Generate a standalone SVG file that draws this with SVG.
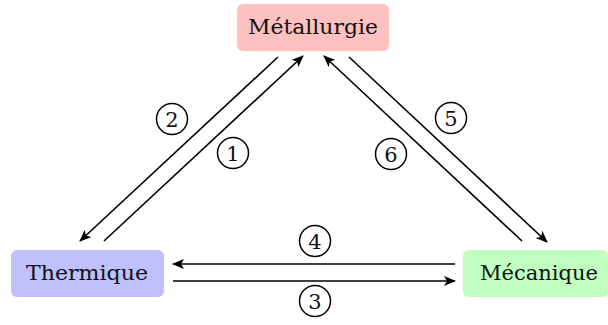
<svg xmlns="http://www.w3.org/2000/svg" width="608" height="325" viewBox="0 0 608 325">
<defs>
<marker id="ah" viewBox="0 0 12 10" refX="11" refY="5" markerWidth="12" markerHeight="10" markerUnits="userSpaceOnUse" orient="auto">
<path d="M0,0 L12,5 L0,10 L3,5 Z" fill="#000"/>
</marker>
</defs>
<style>
.lbl{font-family:"DejaVu Serif","Liberation Serif",serif;font-size:21px;fill:#111;text-anchor:middle}
.num{font-family:"DejaVu Serif","Liberation Serif",serif;font-size:21px;fill:#111;text-anchor:middle}
.c{fill:#fff;stroke:#000;stroke-width:1.5}
.e{stroke:#000;stroke-width:1.6;fill:none;marker-end:url(#ah)}
</style>
<g id="metallurgie">
<rect x="237" y="4" width="152" height="47" rx="6" fill="#ffc0c0"/>
<text class="lbl" x="313" y="34" textLength="130" lengthAdjust="spacingAndGlyphs">Métallurgie</text>
</g>
<g id="thermique">
<rect x="11" y="250" width="153" height="47" rx="6" fill="#c0c0ff"/>
<text class="lbl" x="87" y="280" textLength="122" lengthAdjust="spacingAndGlyphs">Thermique</text>
</g>
<g id="mecanique">
<rect x="463" y="250" width="145" height="47" rx="6" fill="#c0ffc0"/>
<text class="lbl" x="539" y="280" textLength="118" lengthAdjust="spacingAndGlyphs">Mécanique</text>
</g>
<g id="connectors">
<line class="e" x1="104" y1="241" x2="303" y2="56"/>
<line class="e" x1="278" y1="57" x2="80" y2="241"/>
<line class="e" x1="349" y1="57" x2="547" y2="242"/>
<line class="e" x1="522" y1="241" x2="324" y2="56"/>
<line class="e" x1="455" y1="264" x2="173" y2="264"/>
<line class="e" x1="173" y1="281" x2="455" y2="281"/>
</g>
<g id="labels">
<circle class="c" cx="172" cy="119" r="15.5"/><text class="num" x="172" y="127">2</text>
<circle class="c" cx="233" cy="153" r="15.5"/><text class="num" x="233" y="161">1</text>
<circle class="c" cx="391" cy="154" r="15.5"/><text class="num" x="391" y="162">6</text>
<circle class="c" cx="451" cy="118" r="15.5"/><text class="num" x="451" y="126">5</text>
<circle class="c" cx="315" cy="241" r="15.5"/><text class="num" x="315" y="249">4</text>
<circle class="c" cx="315" cy="301" r="15.5"/><text class="num" x="315" y="309">3</text>
</g>
</svg>
